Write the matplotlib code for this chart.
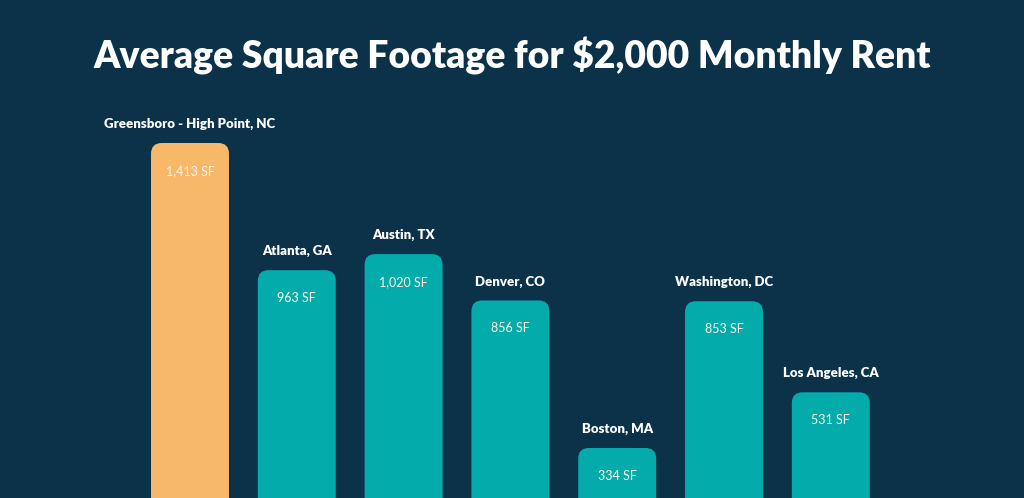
import matplotlib
matplotlib.use("Agg")
import matplotlib.pyplot as plt
from matplotlib.patches import FancyBboxPatch
import matplotlib.transforms as mtransforms

cities = ["Greensboro - High Point, NC", "Atlanta, GA", "Austin, TX", "Denver, CO",
          "Boston, MA", "Washington, DC", "Los Angeles, CA"]
sqft = [1413, 963, 1020, 856, 334, 853, 531]
value_labels = ["1,413 SF", "963 SF", "1,020 SF", "856 SF", "334 SF", "853 SF", "531 SF"]
colors = ["#f7b86a", "#04abab", "#04abab", "#04abab", "#04abab", "#04abab", "#04abab"]

BG = "#0b3249"
fig = plt.figure(figsize=(10.24, 4.98), dpi=100, facecolor=BG)
ax = fig.add_axes([0, 0, 1, 1])
ax.set_facecolor(BG)
ax.set_xlim(-1.779, 7.809)
ax.set_ylim(157, 1919)
ax.axis("off")

x = list(range(len(cities)))
bars = ax.bar(x, sqft, width=0.73, color=colors)
for b, c in zip(bars, colors):
    bx, by = b.get_x(), b.get_y()
    w, h = b.get_width(), b.get_height()
    b.set_visible(False)
    p = FancyBboxPatch((bx, by), w, h,
                       boxstyle="round,pad=0,rounding_size=0.1",
                       mutation_aspect=380, facecolor=c, edgecolor="none")
    ax.add_patch(p)

fam = ["Lato", "DejaVu Sans"]
for xi, v, name, lab in zip(x, sqft, cities, value_labels):
    off_up = mtransforms.offset_copy(ax.transData, fig=fig, x=0, y=19, units="dots")
    ax.text(xi, v, name, transform=off_up, ha="center", va="center",
            color="white", fontsize=9.5, fontweight="heavy", family=fam)
    off_dn = mtransforms.offset_copy(ax.transData, fig=fig, x=0, y=-28, units="dots")
    ax.text(xi, v, lab, transform=off_dn, ha="center", va="center",
            color="#fdf6e8", fontsize=9, family=fam)

fig.text(0.5, 1 - 56 / 498, "Average Square Footage for $2,000 Monthly Rent",
         ha="center", va="center", color="white", fontsize=26.8, fontweight="heavy",
         family=fam)

fig.savefig("out.png", dpi=100, facecolor=BG)
